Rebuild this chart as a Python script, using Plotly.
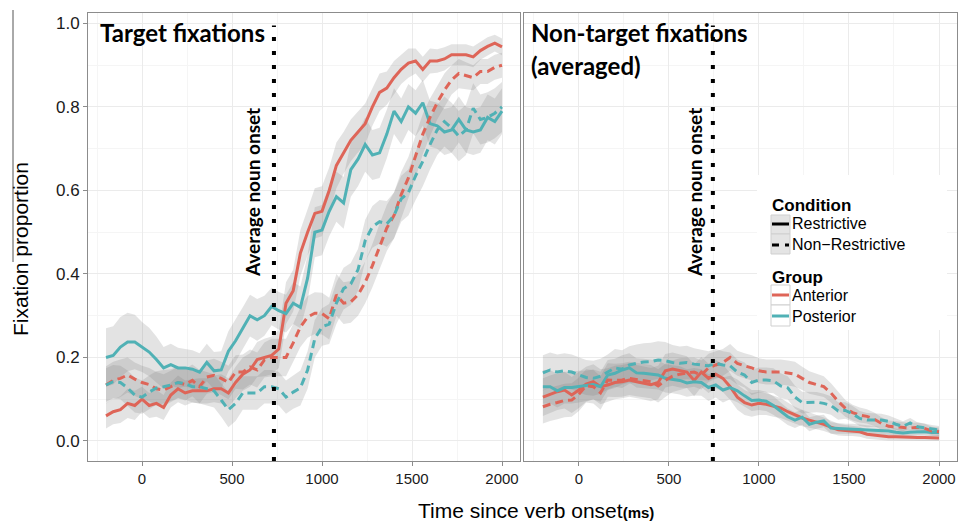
import plotly.graph_objects as go

# ---------------- data ----------------
time_ms = list(range(-200, 2001, 40))  # 56 time bins

# Target fixations (left panel)
t_ant_restr = [0.06, 0.07, 0.075, 0.09, 0.085, 0.10, 0.085, 0.09,
               0.08, 0.11, 0.125, 0.115, 0.12, 0.12, 0.12, 0.125,
               0.125, 0.115, 0.14, 0.16, 0.17, 0.195, 0.20, 0.205,
               0.22, 0.33, 0.36, 0.45, 0.50, 0.545, 0.55, 0.60,
               0.66, 0.69, 0.72, 0.74, 0.76, 0.80, 0.835, 0.845,
               0.87, 0.89, 0.905, 0.91, 0.89, 0.91, 0.91, 0.915,
               0.925, 0.925, 0.925, 0.92, 0.935, 0.945, 0.953, 0.944]
t_pos_restr = [0.20, 0.205, 0.225, 0.237, 0.237, 0.225, 0.213, 0.195,
               0.175, 0.183, 0.175, 0.175, 0.172, 0.165, 0.188, 0.168,
               0.17, 0.215, 0.24, 0.27, 0.30, 0.29, 0.30, 0.322,
               0.312, 0.305, 0.33, 0.32, 0.39, 0.50, 0.505, 0.55,
               0.585, 0.57, 0.65, 0.675, 0.71, 0.685, 0.69, 0.735,
               0.79, 0.765, 0.80, 0.785, 0.81, 0.76, 0.755, 0.74,
               0.745, 0.77, 0.745, 0.74, 0.745, 0.775, 0.765, 0.79]
t_ant_nonr = [0.134, 0.145, 0.15, 0.158, 0.148, 0.14, 0.135, 0.125,
              0.122, 0.13, 0.14, 0.135, 0.145, 0.13, 0.153, 0.157,
              0.15, 0.14, 0.165, 0.165, 0.177, 0.17, 0.194, 0.20,
              0.20, 0.20, 0.235, 0.273, 0.297, 0.306, 0.305, 0.293,
              0.35, 0.33, 0.333, 0.35, 0.38, 0.42, 0.465, 0.51,
              0.54, 0.59, 0.63, 0.68, 0.735, 0.775, 0.81, 0.84,
              0.865, 0.88, 0.875, 0.87, 0.885, 0.885, 0.895, 0.90]
t_pos_nonr = [0.134, 0.142, 0.14, 0.127, 0.11, 0.105, 0.117, 0.127,
              0.13, 0.134, 0.14, 0.137, 0.13, 0.13, 0.125, 0.12,
              0.098, 0.075, 0.09, 0.115, 0.115, 0.115, 0.13, 0.13,
              0.125, 0.105, 0.117, 0.127, 0.17, 0.245, 0.273, 0.28,
              0.33, 0.365, 0.376, 0.41, 0.48, 0.513, 0.525, 0.52,
              0.54, 0.58, 0.595, 0.635, 0.67, 0.71, 0.745, 0.765,
              0.75, 0.73, 0.745, 0.797, 0.77, 0.775, 0.785, 0.80]

t_ant_restr_se = [0.03, 0.03, 0.032, 0.035, 0.035, 0.03, 0.03, 0.032,
                  0.03, 0.03, 0.032, 0.03, 0.028, 0.03, 0.03, 0.032,
                  0.035, 0.035, 0.038, 0.04, 0.04, 0.042, 0.045, 0.045,
                  0.045, 0.05, 0.05, 0.055, 0.055, 0.06, 0.06, 0.055,
                  0.055, 0.05, 0.05, 0.05, 0.048, 0.045, 0.045, 0.04,
                  0.04, 0.035, 0.035, 0.03, 0.03, 0.03, 0.028, 0.028,
                  0.025, 0.025, 0.025, 0.025, 0.022, 0.022, 0.02, 0.02]
t_pos_restr_se = [0.07, 0.07, 0.072, 0.07, 0.065, 0.06, 0.058, 0.055,
                  0.05, 0.05, 0.048, 0.045, 0.045, 0.045, 0.045, 0.045,
                  0.045, 0.048, 0.05, 0.05, 0.05, 0.05, 0.048, 0.045,
                  0.045, 0.045, 0.05, 0.05, 0.055, 0.06, 0.06, 0.06,
                  0.06, 0.062, 0.065, 0.065, 0.065, 0.06, 0.06, 0.058,
                  0.055, 0.055, 0.055, 0.055, 0.055, 0.055, 0.055, 0.055,
                  0.055, 0.055, 0.055, 0.055, 0.055, 0.055, 0.055, 0.055]
t_ant_nonr_se = [0.045, 0.045, 0.045, 0.042, 0.04, 0.04, 0.04, 0.04,
                 0.038, 0.038, 0.038, 0.038, 0.038, 0.04, 0.04, 0.04,
                 0.04, 0.04, 0.04, 0.042, 0.042, 0.042, 0.042, 0.045,
                 0.045, 0.045, 0.045, 0.048, 0.05, 0.05, 0.05, 0.05,
                 0.05, 0.05, 0.05, 0.05, 0.05, 0.052, 0.055, 0.055,
                 0.055, 0.055, 0.05, 0.05, 0.048, 0.045, 0.04, 0.04,
                 0.035, 0.035, 0.032, 0.03, 0.03, 0.03, 0.03, 0.03]
t_pos_nonr_se = [0.04, 0.04, 0.04, 0.042, 0.042, 0.04, 0.04, 0.04,
                 0.04, 0.038, 0.038, 0.038, 0.038, 0.04, 0.04, 0.04,
                 0.04, 0.042, 0.042, 0.04, 0.04, 0.04, 0.04, 0.04,
                 0.04, 0.04, 0.04, 0.042, 0.045, 0.045, 0.045, 0.048,
                 0.05, 0.05, 0.05, 0.05, 0.05, 0.05, 0.052, 0.055,
                 0.055, 0.055, 0.055, 0.058, 0.06, 0.06, 0.06, 0.06,
                 0.06, 0.06, 0.06, 0.06, 0.06, 0.06, 0.06, 0.06]

# Non-target fixations, averaged (right panel)
nt_ant_restr = [0.105, 0.112, 0.118, 0.122, 0.11, 0.122, 0.136, 0.142,
                0.13, 0.134, 0.14, 0.142, 0.146, 0.142, 0.139, 0.135,
                0.14, 0.168, 0.172, 0.168, 0.165, 0.145, 0.165, 0.15,
                0.16, 0.15, 0.13, 0.105, 0.092, 0.086, 0.09, 0.088,
                0.083, 0.079, 0.07, 0.062, 0.055, 0.05, 0.045, 0.04,
                0.033, 0.027, 0.025, 0.024, 0.022, 0.016, 0.014, 0.012,
                0.01, 0.01, 0.009, 0.008, 0.008, 0.008, 0.007, 0.007]
nt_pos_restr = [0.13, 0.13, 0.12, 0.128, 0.128, 0.13, 0.132, 0.135,
                0.13, 0.158, 0.162, 0.17, 0.175, 0.163, 0.162, 0.16,
                0.158, 0.15, 0.148, 0.145, 0.139, 0.142, 0.14, 0.128,
                0.134, 0.122, 0.128, 0.12, 0.108, 0.097, 0.098, 0.095,
                0.085, 0.072, 0.058, 0.05, 0.057, 0.04, 0.045, 0.048,
                0.031, 0.03, 0.029, 0.029, 0.028, 0.026, 0.026, 0.025,
                0.024, 0.021, 0.019, 0.021, 0.022, 0.022, 0.02, 0.02]
nt_ant_nonr = [0.082, 0.088, 0.092, 0.097, 0.098, 0.112, 0.132, 0.13,
               0.115, 0.146, 0.145, 0.146, 0.15, 0.147, 0.144, 0.142,
               0.132, 0.145, 0.155, 0.16, 0.163, 0.165, 0.158, 0.175,
               0.182, 0.188, 0.20, 0.186, 0.18, 0.175, 0.168, 0.165,
               0.165, 0.165, 0.163, 0.16, 0.15, 0.14, 0.135, 0.13,
               0.115, 0.095, 0.078, 0.068, 0.062, 0.059, 0.052, 0.042,
               0.035, 0.034, 0.033, 0.031, 0.033, 0.03, 0.024, 0.022]
nt_pos_nonr = [0.163, 0.17, 0.165, 0.168, 0.165, 0.158, 0.152, 0.15,
               0.155, 0.165, 0.175, 0.172, 0.182, 0.186, 0.189, 0.19,
               0.194, 0.192, 0.188, 0.186, 0.188, 0.184, 0.182, 0.18,
               0.186, 0.182, 0.18, 0.165, 0.158, 0.14, 0.146, 0.146,
               0.144, 0.132, 0.127, 0.105, 0.092, 0.092, 0.093, 0.09,
               0.085, 0.072, 0.073, 0.065, 0.054, 0.05, 0.05, 0.05,
               0.047, 0.04, 0.035, 0.043, 0.034, 0.031, 0.028, 0.026]

nt_ant_restr_se = [0.045, 0.045, 0.044, 0.044, 0.043, 0.043, 0.042, 0.042,
                   0.042, 0.04, 0.04, 0.04, 0.04, 0.04, 0.04, 0.04,
                   0.04, 0.04, 0.04, 0.04, 0.038, 0.038, 0.036, 0.035,
                   0.034, 0.033, 0.032, 0.03, 0.03, 0.028, 0.028, 0.026,
                   0.025, 0.024, 0.022, 0.02, 0.02, 0.018, 0.017, 0.016,
                   0.015, 0.014, 0.013, 0.012, 0.012, 0.011, 0.01, 0.01,
                   0.009, 0.009, 0.008, 0.008, 0.008, 0.007, 0.007, 0.007]
nt_pos_restr_se = [0.04, 0.04, 0.04, 0.038, 0.038, 0.038, 0.036, 0.036,
                   0.036, 0.036, 0.035, 0.035, 0.035, 0.035, 0.035, 0.035,
                   0.035, 0.034, 0.034, 0.034, 0.033, 0.033, 0.032, 0.032,
                   0.03, 0.03, 0.028, 0.027, 0.026, 0.025, 0.024, 0.023,
                   0.022, 0.021, 0.02, 0.019, 0.018, 0.017, 0.016, 0.015,
                   0.014, 0.013, 0.012, 0.012, 0.011, 0.011, 0.01, 0.01,
                   0.01, 0.009, 0.009, 0.009, 0.008, 0.008, 0.008, 0.008]
nt_ant_nonr_se = [0.04, 0.04, 0.04, 0.04, 0.04, 0.04, 0.04, 0.04,
                  0.04, 0.04, 0.04, 0.04, 0.04, 0.04, 0.04, 0.04,
                  0.04, 0.04, 0.038, 0.038, 0.036, 0.035, 0.035, 0.034,
                  0.033, 0.032, 0.032, 0.03, 0.03, 0.03, 0.03, 0.03,
                  0.03, 0.03, 0.03, 0.03, 0.028, 0.027, 0.026, 0.025,
                  0.023, 0.022, 0.02, 0.019, 0.018, 0.017, 0.016, 0.015,
                  0.014, 0.013, 0.012, 0.012, 0.011, 0.011, 0.01, 0.01]
nt_pos_nonr_se = [0.042, 0.042, 0.042, 0.042, 0.042, 0.042, 0.042, 0.042,
                  0.042, 0.042, 0.045, 0.045, 0.045, 0.045, 0.045, 0.045,
                  0.045, 0.045, 0.042, 0.04, 0.04, 0.038, 0.036, 0.035,
                  0.034, 0.033, 0.032, 0.03, 0.03, 0.03, 0.03, 0.03,
                  0.03, 0.03, 0.028, 0.027, 0.026, 0.025, 0.024, 0.023,
                  0.022, 0.021, 0.02, 0.019, 0.018, 0.017, 0.016, 0.015,
                  0.014, 0.013, 0.012, 0.012, 0.011, 0.011, 0.01, 0.01]

noun_onset = [733, 744]          # average noun onset per panel (ms)
x_ticks = [0, 500, 1000, 1500, 2000]
y_ticks = [0.0, 0.2, 0.4, 0.6, 0.8, 1.0]
condition_labels = ["Restrictive", "Non\u2212Restrictive"]
group_labels = ["Anterior", "Posterior"]

# ---------------- style ----------------
W, H = 960, 521
RED = "#DE6558"
TEAL = "#50B1B5"
RIBBON = "rgba(128,128,128,0.22)"
GRID = "#EBEBEB"
MINOR = "#F5F5F5"
FRAME = "#8C8C8C"
SANS = "Liberation Sans, Arial, sans-serif"
XTICKFONT = dict(family=SANS, size=15, color="#1a1a1a")
YTICKFONT = dict(family=SANS, size=17, color="#1a1a1a")
TITLEFONT = "Lato, Open Sans, sans-serif"


def px(x):
    return x / W


def py(y):
    return 1 - y / H


fig = go.Figure()

panels = [
    ("x", "y", [(t_ant_restr, t_ant_restr_se, RED, "solid"),
                (t_pos_restr, t_pos_restr_se, TEAL, "solid"),
                (t_ant_nonr, t_ant_nonr_se, RED, "8px,5px"),
                (t_pos_nonr, t_pos_nonr_se, TEAL, "8px,5px")]),
    ("x2", "y2", [(nt_ant_restr, nt_ant_restr_se, RED, "solid"),
                  (nt_pos_restr, nt_pos_restr_se, TEAL, "solid"),
                  (nt_ant_nonr, nt_ant_nonr_se, RED, "8px,5px"),
                  (nt_pos_nonr, nt_pos_nonr_se, TEAL, "8px,5px")]),
]

for xa, ya, series in panels:
    for mean, se, col, dash in series:
        upper = [m + s for m, s in zip(mean, se)]
        lower = [m - s for m, s in zip(mean, se)]
        fig.add_trace(go.Scatter(
            x=time_ms + time_ms[::-1], y=upper + lower[::-1],
            fill="toself", fillcolor=RIBBON, line=dict(width=0),
            mode="lines", hoverinfo="skip", showlegend=False,
            xaxis=xa, yaxis=ya))
    for mean, se, col, dash in series:
        fig.add_trace(go.Scatter(
            x=time_ms, y=mean, mode="lines",
            line=dict(color=col, width=3, dash=dash),
            showlegend=False, xaxis=xa, yaxis=ya))

ydom = [py(461), py(13)]
common_x = dict(tickvals=x_ticks, ticks="outside", ticklen=4, tickcolor=FRAME,
                showline=True, mirror=True, linecolor=FRAME, linewidth=1,
                showgrid=True, gridcolor=GRID, gridwidth=1, zeroline=False,
                tickfont=XTICKFONT,
                minor=dict(dtick=250, tick0=0, showgrid=True, gridcolor=MINOR))
common_y = dict(range=[-0.048, 1.025], tickvals=y_ticks, tickformat=".1f",
                showline=True, mirror=True, linecolor=FRAME, linewidth=1,
                showgrid=True, gridcolor=GRID, zeroline=False, domain=ydom,
                tickfont=YTICKFONT,
                minor=dict(dtick=0.1, tick0=0, showgrid=True, gridcolor=MINOR))

fig.update_layout(
    width=W, height=H, margin=dict(l=0, r=0, t=0, b=0),
    paper_bgcolor="white", plot_bgcolor="white", showlegend=False,
    xaxis=dict(domain=[px(88), px(520)], range=[-300, 2100], anchor="y", **common_x),
    yaxis=dict(anchor="x", ticks="outside", ticklen=4, tickcolor=FRAME, **common_y),
    xaxis2=dict(domain=[px(524), px(957)], range=[-305, 2100], anchor="y2", **common_x),
    yaxis2=dict(anchor="x2", ticks="", showticklabels=False, **common_y),
)

shapes = []
annotations = []

# average noun onset lines and labels
label_x = [611, 639]
for i, (xa, ya) in enumerate([("x", "y"), ("x2", "y2")]):
    shapes.append(dict(type="line", xref=xa, yref=ya, x0=noun_onset[i], x1=noun_onset[i],
                       y0=-0.048, y1=0.995, layer="above",
                       line=dict(color="black", width=4, dash="4px,10px")))
    annotations.append(dict(xref=xa, yref=ya, x=label_x[i], y=0.596,
                            text="<b>Average noun onset</b>", textangle=-90,
                            showarrow=False,
                            font=dict(family=TITLEFONT, size=19, color="black")))

# panel titles
TFONT = dict(family=TITLEFONT, size=24, color="black")
annotations.append(dict(xref="paper", yref="paper", x=px(98), y=py(33),
                        xanchor="left", yanchor="middle", showarrow=False,
                        text="<b>Target fixations</b>", font=TFONT))
annotations.append(dict(xref="paper", yref="paper", x=px(529), y=py(33),
                        xanchor="left", yanchor="middle", showarrow=False,
                        text="<b>Non-target fixations</b>", font=TFONT))
annotations.append(dict(xref="paper", yref="paper", x=px(529), y=py(66),
                        xanchor="left", yanchor="middle", showarrow=False,
                        text="<b>(averaged)</b>", font=TFONT))

# axis titles
annotations.append(dict(xref="paper", yref="paper", x=px(416), y=py(510),
                        xanchor="left", yanchor="middle", showarrow=False,
                        text="Time since verb onset<b><span style='font-size:15px'>(ms)</span></b>",
                        font=dict(family=SANS, size=21, color="black")))
annotations.append(dict(xref="paper", yref="paper", x=px(21), y=py(249),
                        xanchor="center", yanchor="middle", showarrow=False, textangle=-90,
                        text="Fixation proportion",
                        font=dict(family=SANS, size=21, color="black")))
shapes.append(dict(type="line", xref="paper", yref="paper", x0=px(13), x1=px(13),
                   y0=py(10), y1=py(262), line=dict(color="#555555", width=1)))

# legend (drawn manually, ggplot style)
shapes.append(dict(type="rect", xref="paper", yref="paper", x0=px(757), x1=px(947),
                   y0=py(330), y1=py(175), fillcolor="white", line=dict(width=0),
                   layer="above"))
LEGFONT = dict(family=SANS, size=16, color="black")
annotations.append(dict(xref="paper", yref="paper", x=px(770), y=py(205), xanchor="left",
                        yanchor="middle", showarrow=False, text="<b>Condition</b>",
                        font=dict(family=SANS, size=17, color="black")))
annotations.append(dict(xref="paper", yref="paper", x=px(770), y=py(277), xanchor="left",
                        yanchor="middle", showarrow=False, text="<b>Group</b>",
                        font=dict(family=SANS, size=17, color="black")))

# key boxes: (top, bottom, fill, line colour, dash, line y)
keys = [
    (215, 234, "#E4E4E4", "black", "solid", 224),
    (234, 254, "#E4E4E4", "black", "7px,6px", 245),
    (285, 305, "white", RED, "solid", 295),
    (305, 326, "white", TEAL, "solid", 316),
]
for y0, y1, fill, col, dash, yline in keys:
    shapes.append(dict(type="rect", xref="paper", yref="paper", x0=px(771), x1=px(790),
                       y0=py(y1), y1=py(y0), fillcolor=fill, layer="above",
                       line=dict(color="#CFCFCF", width=1)))
    shapes.append(dict(type="line", xref="paper", yref="paper", x0=px(772), x1=px(789),
                       y0=py(yline), y1=py(yline), layer="above",
                       line=dict(color=col, width=3, dash=dash)))

annotations.append(dict(xref="paper", yref="paper", x=px(790), y=py(234.5),
                        xanchor="left", yanchor="middle", align="left", showarrow=False,
                        text="<br>".join(condition_labels), font=LEGFONT))
annotations.append(dict(xref="paper", yref="paper", x=px(790), y=py(305.5),
                        xanchor="left", yanchor="middle", align="left", showarrow=False,
                        text="<br>".join(group_labels), font=LEGFONT))

fig.update_layout(shapes=shapes, annotations=annotations)
fig.write_html("out.html")
